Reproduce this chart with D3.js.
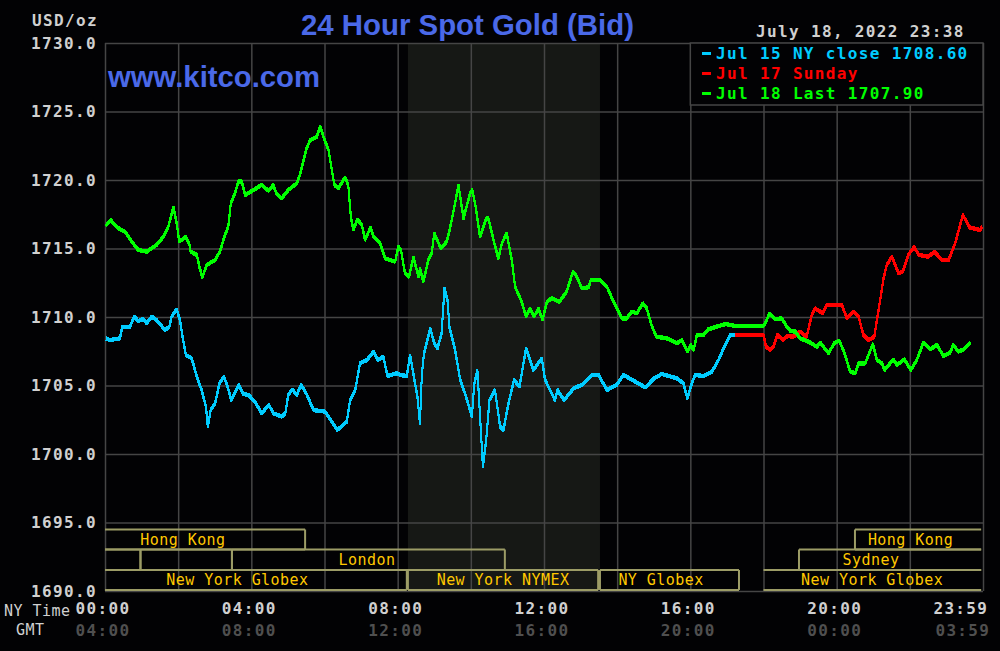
<!DOCTYPE html>
<html>
<head>
<meta charset="utf-8">
<script src="https://cdn.jsdelivr.net/npm/d3@7"></script>
<style>
  html, body { margin: 0; background: #020204; overflow: hidden; }
  svg { display: block; }
  text { font-family: "DejaVu Sans Mono", monospace; }
  .bold { font-weight: bold; font-size: 16px; letter-spacing: 1.35px; }
  .thin { font-size: 15px; letter-spacing: 0.45px; }
</style>
</head>
<body>
<div id="viz"></div>
<script>
// hours after midnight NY time, and bid price
let jul15Hours = [0.02,0.14,0.41,0.47,0.68,0.80,0.91,1.05,1.14,1.28,1.41,1.50,1.64,1.76,1.82,1.96,2.05,2.12,2.21,2.37,2.51,2.64,2.76,2.81,2.89,3.01,3.13,3.25,3.35,3.45,3.66,3.78,3.92,4.10,4.28,4.48,4.60,4.83,4.93,5.01,5.12,5.24,5.36,5.50,5.70,6.02,6.20,6.35,6.61,6.70,6.84,6.97,7.16,7.34,7.45,7.61,7.72,7.98,8.07,8.25,8.34,8.45,8.54,8.61,8.66,8.72,8.89,9.00,9.09,9.20,9.28,9.37,9.41,9.57,9.71,9.84,10.03,10.09,10.18,10.33,10.42,10.51,10.66,10.80,10.89,11.03,11.18,11.33,11.51,11.71,11.94,12.03,12.30,12.37,12.55,12.81,13.03,13.31,13.49,13.72,13.99,14.17,14.45,14.77,15.01,15.22,15.63,15.81,15.92,16.04,16.13,16.36,16.59,16.77,16.91,17.09,17.22];
let jul15Values = [1708.44,1708.32,1708.44,1709.29,1709.29,1710.03,1709.71,1709.85,1709.54,1710.03,1709.78,1709.49,1709.05,1709.29,1710.03,1710.56,1709.78,1708.56,1707.23,1706.98,1705.65,1704.67,1703.46,1702.0,1703.21,1703.70,1705.16,1705.65,1704.92,1703.94,1705.04,1704.38,1704.31,1703.82,1702.97,1703.58,1702.97,1702.73,1702.97,1704.31,1704.72,1704.31,1705.04,1704.43,1703.21,1703.09,1702.36,1701.75,1702.36,1703.94,1704.67,1706.62,1706.86,1707.47,1706.86,1707.1,1705.7,1705.89,1705.77,1705.69,1707.23,1705.52,1704.18,1702.24,1705.77,1707.35,1709.17,1708.08,1707.71,1708.81,1712.09,1711.12,1709.3,1707.59,1705.40,1704.43,1702.73,1705.04,1706.13,1699.08,1701.02,1703.94,1704.67,1702.0,1701.75,1703.70,1705.40,1704.92,1707.71,1706.13,1706.98,1705.40,1703.94,1704.67,1703.94,1704.79,1705.04,1705.77,1705.77,1704.67,1705.04,1705.77,1705.35,1704.86,1705.52,1705.84,1705.52,1705.16,1704.06,1705.16,1705.77,1705.69,1706.01,1706.86,1707.71,1708.69,1708.69];

let jul17Hours = [17.22,18.0,18.07,18.18,18.27,18.38,18.53,18.66,18.82,19.0,19.18,19.32,19.41,19.62,19.73,19.91,20.14,20.28,20.46,20.60,20.73,20.87,21.03,21.10,21.19,21.28,21.37,21.51,21.69,21.81,21.96,22.12,22.24,22.51,22.67,22.88,23.06,23.24,23.45,23.63,23.92,23.97];
let jul17Values = [1708.69,1708.69,1707.83,1707.59,1707.83,1708.69,1708.32,1708.61,1708.56,1708.93,1708.56,1710.15,1710.63,1710.27,1710.88,1710.88,1710.88,1709.90,1710.39,1710.02,1708.69,1708.32,1708.56,1709.78,1711.24,1712.82,1713.80,1714.40,1713.19,1713.31,1714.53,1715.13,1714.53,1714.40,1714.77,1714.16,1714.16,1715.38,1717.45,1716.54,1716.35,1716.59];

let jul18Hours = [0.02,0.155,0.27,0.41,0.55,0.73,0.91,1.14,1.41,1.60,1.73,1.87,1.96,2.03,2.21,2.31,2.34,2.51,2.58,2.66,2.78,3.01,3.14,3.28,3.37,3.44,3.55,3.65,3.74,3.83,4.06,4.28,4.47,4.60,4.69,4.83,5.01,5.24,5.33,5.51,5.61,5.79,5.88,5.97,6.11,6.20,6.27,6.38,6.56,6.65,6.72,6.79,6.90,7.02,7.11,7.26,7.34,7.52,7.66,7.93,8.02,8.09,8.20,8.31,8.43,8.57,8.61,8.70,8.84,8.93,9.00,9.18,9.34,9.43,9.57,9.66,9.80,9.98,10.04,10.14,10.25,10.42,10.48,10.62,10.75,10.85,10.98,11.12,11.21,11.39,11.51,11.62,11.73,11.85,11.96,12.08,12.21,12.42,12.62,12.79,12.90,13.03,13.22,13.28,13.54,13.72,13.90,14.13,14.26,14.40,14.54,14.70,14.81,14.95,15.08,15.36,15.63,15.77,15.92,16.01,16.09,16.18,16.36,16.49,16.72,16.98,17.22,18.0,18.07,18.16,18.32,18.50,18.64,18.73,18.87,19.0,19.23,19.46,19.55,19.78,19.93,20.07,20.20,20.37,20.51,20.60,20.78,20.99,21.10,21.24,21.31,21.55,21.65,21.85,22.03,22.19,22.37,22.56,22.74,22.92,23.10,23.19,23.33,23.47,23.65];
let jul18Values = [1716.72,1717.08,1716.72,1716.4,1716.23,1715.5,1714.89,1714.77,1715.26,1715.87,1716.59,1718.01,1716.84,1715.5,1715.86,1715.26,1714.77,1714.53,1713.67,1712.9,1713.8,1714.16,1714.77,1715.99,1716.59,1718.3,1719.03,1719.88,1719.88,1718.9,1719.27,1719.64,1719.22,1719.64,1718.98,1718.66,1719.27,1719.76,1720.37,1722.31,1722.92,1723.16,1723.94,1723.16,1722.19,1720.73,1719.64,1719.39,1720.2,1719.64,1717.32,1716.35,1717.13,1716.72,1715.62,1716.55,1715.86,1715.38,1714.28,1714.04,1715.14,1714.89,1713.19,1712.94,1714.36,1712.94,1713.55,1712.58,1714.16,1714.65,1716.11,1715.01,1715.5,1716.47,1718.3,1719.64,1717.2,1719.03,1719.27,1717.93,1715.86,1717.2,1717.2,1715.62,1714.28,1715.38,1716.11,1714.16,1712.21,1711.12,1710.03,1710.63,1710.03,1710.63,1709.78,1711.12,1711.36,1711.12,1711.85,1713.31,1712.94,1712.09,1712.17,1712.70,1712.70,1712.21,1711.12,1709.9,1709.9,1710.39,1710.27,1711.0,1710.63,1709.3,1708.56,1708.44,1708.08,1708.32,1707.47,1707.96,1707.59,1708.69,1708.69,1709.1,1709.3,1709.49,1709.34,1709.34,1709.66,1710.27,1709.83,1709.90,1709.29,1709.0,1708.93,1708.44,1708.2,1707.83,1708.13,1707.35,1708.08,1708.27,1707.47,1706.01,1705.89,1706.62,1706.62,1708.03,1706.86,1706.62,1706.13,1706.91,1706.5,1706.91,1706.13,1706.86,1708.13,1707.64,1707.96,1707.15,1707.4,1707.96,1707.47,1707.64,1708.13];

let priceTicks = [1690,1695,1700,1705,1710,1715,1720,1725,1730];
let hourGrid = d3.range(0, 25, 2);
let nyLabels = ['00:00','04:00','08:00','12:00','16:00','20:00','23:59'];
let gmtLabels = ['04:00','08:00','12:00','16:00','20:00','00:00','03:59'];
let labelHours = [0,4,8,12,16,20,23.45];
let legendLabels = ['Jul 15 NY close 1708.60','Jul 17 Sunday','Jul 18 Last 1707.90'];
let legendColors = ['#00ccff','#ff0000','#00ff00'];

// trading sessions: name, start hour, end hour, row, label hour
let sessions = [
    ['Hong Kong', 0, 5.47, 0, 2.13],
    ['', 0, 0.97, 1, 0],
    ['', 0.97, 3.47, 1, 0],
    ['London', 3.47, 10.93, 1, 7.16],
    ['New York Globex', 0, 8.25, 2, 3.62],
    ['New York NYMEX', 8.28, 13.48, 2, 10.88],
    ['NY Globex', 13.53, 17.33, 2, 15.2],
    ['New York Globex', 18, 23.95, 2, 20.97],
    ['Sydney', 18.97, 23.95, 1, 20.94],
    ['Hong Kong', 20.5, 23.95, 0, 22.02],
];

let margin = {top: 43, right: 17, bottom: 60, left: 105};
let width = 1000 - margin.left - margin.right;
let height = 651 - margin.top - margin.bottom;

let svg = d3.select('#viz')
    .append('svg')
    .attr('width', 1000)
    .attr('height', 651);

let g = svg.append('g')
    .attr('transform', `translate(${margin.left}, ${margin.top})`);

let x = d3.scaleLinear().domain([0, 24]).range([0, width]);
let y = d3.scaleLinear().domain([1690, 1730]).range([height, 0]);

// NYMEX pit hours band
g.append('rect')
    .attr('x', x(8.28))
    .attr('y', 0)
    .attr('width', x(13.53) - x(8.28))
    .attr('height', height)
    .attr('fill', '#161815');

// grid, drawn with the axes
let yAxis = g.append('g')
    .call(d3.axisLeft(y).tickValues(priceTicks).tickSize(-width).tickPadding(8).tickFormat(d3.format('.1f')));
yAxis.select('.domain').remove();
yAxis.selectAll('line').attr('stroke', '#454545').attr('stroke-width', 1.5);
yAxis.selectAll('text')
    .attr('class', 'bold')
    .attr('fill', '#d0d0d0')
    .attr('dy', '0.34em');

let xGrid = g.append('g')
    .attr('transform', `translate(0, ${height})`)
    .call(d3.axisBottom(x).tickValues(hourGrid).tickSize(-height).tickFormat(''));
xGrid.select('.domain').remove();
xGrid.selectAll('line').attr('stroke', '#454545').attr('stroke-width', 1.5);

// sessions: top and bottom rails, side posts only away from the chart ends
let rowTop = [486.5, 506.5, 527];
let rowH = [20, 20.5, 20];
let sessionG = g.append('g');
sessions.forEach(s => {
    let [name, a, b, row] = s;
    let top = rowTop[row];
    let bottom = top + rowH[row];
    let outline = `M${x(a)},${top}H${x(b)}M${x(a)},${bottom}H${x(b)}`;
    if (a > 0 && a != 18) outline += `M${x(a)},${top}V${bottom}`;
    if (b < 23.9) outline += `M${x(b)},${top}V${bottom}`;
    sessionG.append('path')
        .attr('d', outline)
        .attr('fill', 'none')
        .attr('stroke', '#9c9c66')
        .attr('stroke-width', 2);
});
sessions.filter(s => s[0]).forEach(s => {
    sessionG.append('text')
        .attr('class', 'thin')
        .attr('x', x(s[4]))
        .attr('y', rowTop[s[3]] + 15)
        .attr('text-anchor', 'middle')
        .attr('fill', '#ffc800')
        .text(s[0]);
});

// legend covers the grid
g.append('rect')
    .attr('x', x(16))
    .attr('y', 0)
    .attr('width', x(24) - x(16))
    .attr('height', 62)
    .attr('fill', '#020204')
    .attr('stroke', '#454545')
    .attr('stroke-width', 1.5);

let line = d3.line()
    .x(d => x(d[0]))
    .y(d => y(d[1]));

let seriesList = [
    [jul15Hours, jul15Values, legendColors[0]],
    [jul17Hours, jul17Values, legendColors[1]],
    [jul18Hours, jul18Values, legendColors[2]],
];
// three copies stacked a pixel apart, so flat runs are fat and steep runs stay thin
seriesList.forEach(([hours, values, color]) => {
    [-1.2, 0, 1.2].forEach(dy => {
        g.append('path')
            .datum(d3.zip(hours, values))
            .attr('d', line)
            .attr('transform', `translate(0, ${dy})`)
            .attr('fill', 'none')
            .attr('stroke', color)
            .attr('stroke-width', 2)
            .attr('stroke-linejoin', 'bevel')
            .attr('shape-rendering', 'crispEdges');
    });
});

legendLabels.forEach((label, i) => {
    let ly = [59, 79, 99][i];
    svg.append('rect')
        .attr('x', 702)
        .attr('y', ly - 7)
        .attr('width', 9)
        .attr('height', 3)
        .attr('fill', legendColors[i]);
    svg.append('text')
        .attr('class', 'bold')
        .attr('x', 716)
        .attr('y', ly)
        .attr('fill', legendColors[i])
        .text(label);
});

// titles
svg.append('text')
    .attr('x', 301)
    .attr('y', 35)
    .attr('textLength', 333)
    .attr('lengthAdjust', 'spacingAndGlyphs')
    .style('font-family', '"Liberation Sans"')
    .style('font-size', '30px')
    .style('font-weight', 'bold')
    .attr('fill', '#4a69e8')
    .text('24 Hour Spot Gold (Bid)');

svg.append('text')
    .attr('x', 108)
    .attr('y', 87)
    .attr('textLength', 212)
    .attr('lengthAdjust', 'spacingAndGlyphs')
    .style('font-family', '"Liberation Sans"')
    .style('font-size', '30px')
    .style('font-weight', 'bold')
    .attr('fill', '#4a69e8')
    .text('www.kitco.com');

svg.append('text')
    .attr('class', 'bold')
    .attr('x', 32)
    .attr('y', 26)
    .attr('fill', '#d0d0d0')
    .text('USD/oz');

svg.append('text')
    .attr('class', 'bold')
    .attr('x', 756)
    .attr('y', 37)
    .attr('fill', '#d0d0d0')
    .text('July 18, 2022 23:38');

svg.append('text').attr('class', 'thin').attr('x', 4).attr('y', 616).attr('fill', '#d0d0d0').text('NY Time');
svg.append('text').attr('class', 'thin').attr('x', 16).attr('y', 635).attr('fill', '#d0d0d0').text('GMT');

// time labels under the chart
labelHours.forEach((h, i) => {
    svg.append('text')
        .attr('class', 'bold')
        .attr('x', margin.left + x(h) - 2)
        .attr('y', 614)
        .attr('text-anchor', 'middle')
        .attr('fill', '#d0d0d0')
        .text(nyLabels[i]);
    svg.append('text')
        .attr('class', 'bold')
        .attr('x', margin.left + x(h) - 2 + (i == 6 ? 2 : 0))
        .attr('y', 636)
        .attr('text-anchor', 'middle')
        .attr('fill', '#4f4f4f')
        .text(gmtLabels[i]);
});
</script>
</body>
</html>
